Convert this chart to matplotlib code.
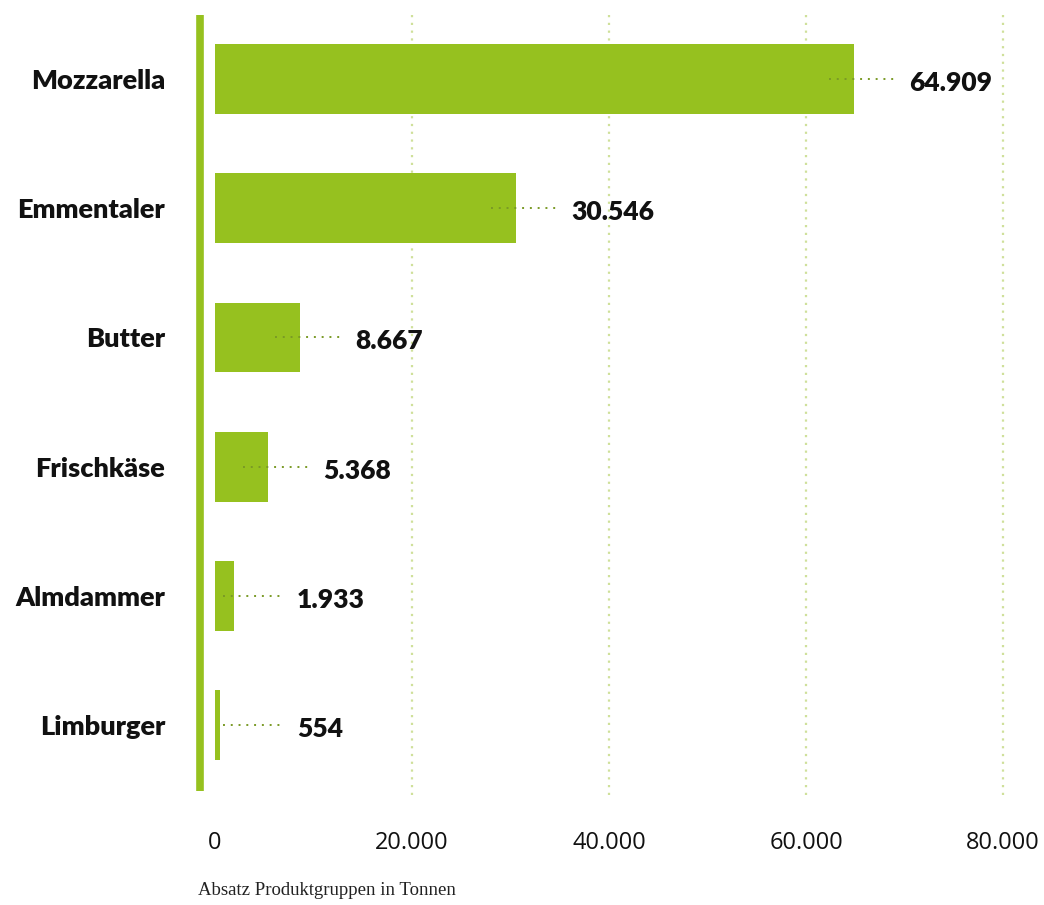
import matplotlib.pyplot as plt
from matplotlib.lines import Line2D

# Absatz nach Produktgruppen (Tonnen)
produkte = ["Mozzarella", "Emmentaler", "Butter", "Frischkäse", "Almdammer", "Limburger"]
absatz = [64909, 30546, 8667, 5368, 1933, 554]
wert_labels = ["64.909", "30.546", "8.667", "5.368", "1.933", "554"]
ticks = [0, 20000, 40000, 60000, 80000]
tick_labels = ["0", "20.000", "40.000", "60.000", "80.000"]

GRUEN = "#96c11f"
GRID = "#cfe09a"
LEADER = "#7a9a26"

W, H = 1044, 905
fig = plt.figure(figsize=(W / 100, H / 100), dpi=100)
ax = fig.add_axes([215 / W, 1 - 795 / H, 788 / W, 780 / H])

pos = list(range(len(produkte)))
ax.barh(pos, absatz, height=0.54, color=GRUEN, zorder=2)

ax.set_xlim(0, 80000)
ax.set_ylim(5.54, -0.495)

# gepunktete Gitterlinien
for t in ticks[1:]:
    ax.axvline(t, color=GRID, lw=1.6, ls=(0, (1, 2.5)), zorder=1, clip_on=False)

# gruene Leiste links
fig.add_artist(Line2D([199.5 / W, 199.5 / W], [1 - 15 / H, 1 - 791 / H],
                      color=GRUEN, lw=5.5, solid_capstyle="butt"))

px = 80000 / 788
for p, v, lab in zip(pos, absatz, wert_labels):
    x0 = max(v - 25 * px, 8 * px)
    x1 = max(v + 41 * px, x0 + 60 * px)
    ax.plot([x0, x1], [p, p], color=LEADER, lw=1.4, ls=(0, (1, 3)), zorder=3, clip_on=False)
    ax.text(x1 + 14 * px, p + 0.03, lab, ha="left", va="center", fontsize=19,
            fontweight="heavy", family="Lato", color="#111111", clip_on=False)

ax.set_yticks(pos)
ax.set_yticklabels(produkte, fontsize=19.5, fontweight="heavy", family="Lato", color="#111111")
ax.set_xticks(ticks)
ax.set_xticklabels(tick_labels, fontsize=17, family="Open Sans", color="#111111")
ax.tick_params(axis="x", length=0, pad=26)
ax.tick_params(axis="y", length=0, pad=36)
for s in ax.spines.values():
    s.set_visible(False)

fig.text(198 / W, 1 - 890 / H, "Absatz Produktgruppen in Tonnen", fontsize=13.5,
         family="Liberation Serif", color="#222222", va="center", ha="left")

fig.savefig("out.png", dpi=100, facecolor="white")
